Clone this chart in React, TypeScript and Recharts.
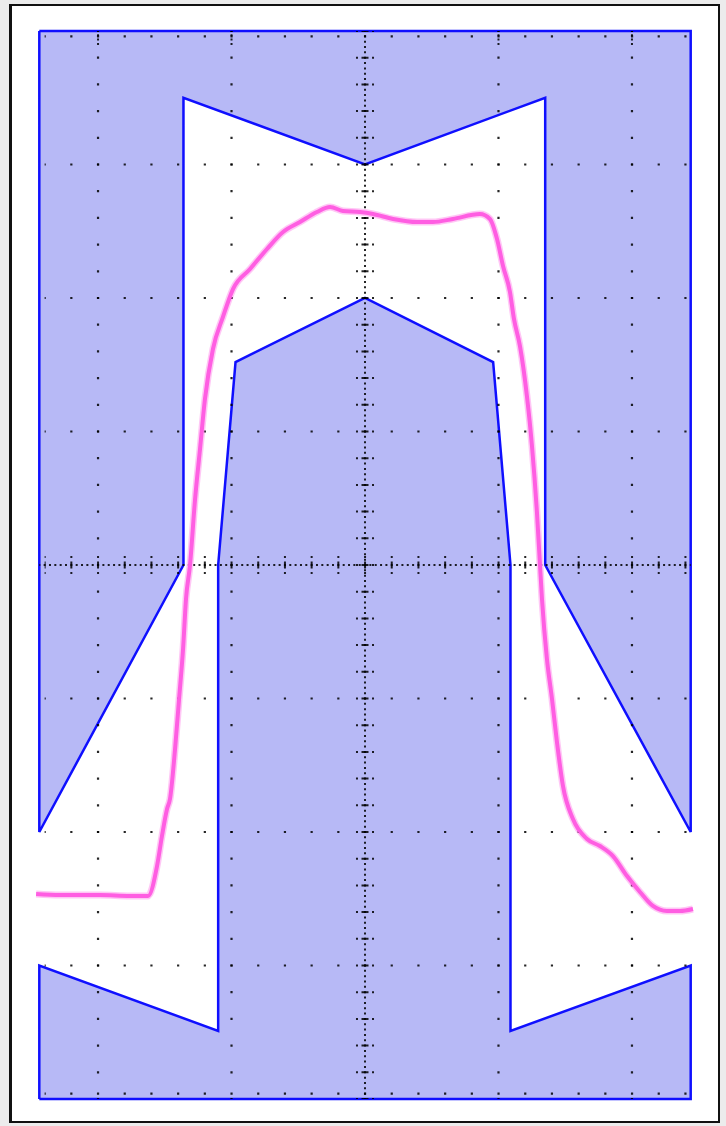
import { ComposedChart, Area, Line, XAxis, YAxis, ReferenceLine } from 'recharts'

// all values in screen divisions: x left/right of centre, y above/below centre
const upperMaskX = [-2.44, -2.44, -1.36, -1.36, 0, 1.35, 1.35, 2.44, 2.44, -2.44]
const upperMaskY = [4, -2, 0, 3.5, 3, 3.5, 0, -2, 4, 4]
const lowerMaskX = [-2.44, -2.44, -1.1, -1.1, -0.97, 0, 0.96, 1.09, 1.09, 2.44, 2.44, -2.44]
const lowerMaskY = [-4, -3, -3.49, 0, 1.52, 2, 1.52, 0, -3.49, -3, -4, -4]

// captured pulse
const traceX = [-2.464, -2.285, -1.985, -1.76, -1.625, -1.558, -1.521, -1.483, -1.461, -1.423, -1.393, -1.363,
  -1.341, -1.311, -1.273, -1.236, -1.199, -1.139, -1.064, -0.989, -0.861, -0.734, -0.614, -0.487, -0.36,
  -0.262, -0.165, -0.037, 0.06, 0.21, 0.39, 0.509, 0.659, 0.861, 0.936, 0.989, 1.034, 1.086, 1.116, 1.161,
  1.213, 1.251, 1.288, 1.311, 1.326, 1.363, 1.401, 1.438, 1.483, 1.558, 1.663, 1.76, 1.858, 1.963, 2.06,
  2.157, 2.262, 2.36, 2.457]
const traceY = [-2.464, -2.472, -2.472, -2.479, -2.479, -2.255, -2.03, -1.828, -1.753, -1.378, -1.004, -0.629,
  -0.255, 0, 0.494, 0.869, 1.243, 1.618, 1.858, 2.067, 2.217, 2.367, 2.494, 2.569, 2.644,
  2.682, 2.652, 2.644, 2.629, 2.592, 2.569, 2.569, 2.592, 2.629, 2.592, 2.442, 2.24, 2.045, 1.843, 1.64,
  1.266, 0.891, 0.397, 0, -0.255, -0.704, -1.004, -1.326, -1.655, -1.903, -2.052, -2.105, -2.18, -2.33, -2.449,
  -2.554, -2.592, -2.592, -2.577]

const gridX = [-2, -1, 1, 2]
const gridY = [-3, -2, -1, 1, 2, 3]
const edgeY = [3.96, -3.96]

const zip = (xs: number[], ys: number[]) => xs.map((x, i) => ({ x, y: ys[i] }))
const upperMask = zip(upperMaskX, upperMaskY)
const lowerMask = zip(lowerMaskX, lowerMaskY)
const trace = zip(traceX, traceY)

const DOT = '#000'
const BLUE = '#0f0fff'
const MASK = '#b7b9f6'
const PINK = '#ff5ee2'

export default function App() {
  return (
    <div style={{ position: 'absolute', left: 0, top: 0, width: 726, height: 1126, background: '#ececec' }}>
      <div style={{ position: 'absolute', left: 9, top: 4, width: 711, height: 1119, boxSizing: 'border-box',
        border: '2px solid #111', borderLeftWidth: 3, background: '#fff' }} />
      <div style={{ position: 'absolute', left: 0, top: 0 }}>
        <ComposedChart width={726} height={1126} margin={{ top: 31, right: 31.3, bottom: 27, left: 35.3 }}>
          <XAxis type="number" dataKey="x" domain={[-2.47, 2.47]} hide />
          <YAxis type="number" dataKey="y" domain={[-4, 4]} hide />
          <Area data={upperMask} dataKey="y" type="linear" baseValue={4} fill={MASK} fillOpacity={1}
            stroke={BLUE} strokeWidth={2.5} isAnimationActive={false} />
          <Area data={lowerMask} dataKey="y" type="linear" baseValue={-4} fill={MASK} fillOpacity={1}
            stroke={BLUE} strokeWidth={2.5} isAnimationActive={false} />

          {gridX.map(v => (
            <ReferenceLine key={'gx' + v} segment={[{ x: v, y: 4 }, { x: v, y: -4 }]} stroke={DOT} strokeWidth={2.2}
              strokeDasharray="2.2 24.5" strokeDashoffset={1.1} strokeOpacity={0.85} />
          ))}
          {gridX.map(v => (
            <ReferenceLine key={'gt' + v} segment={[{ x: v, y: 4 }, { x: v, y: 3.88 }]} stroke={DOT} strokeWidth={2}
              strokeDasharray="2 2.3" strokeDashoffset={1} strokeOpacity={0.85} />
          ))}
          {gridY.map(v => (
            <ReferenceLine key={'gy' + v} segment={[{ x: -2.4, y: v }, { x: 2.41, y: v }]} stroke={DOT} strokeWidth={2.2}
              strokeDasharray="2.2 24.5" strokeDashoffset={1.1} strokeOpacity={0.85} />
          ))}
          {edgeY.map(v => (
            <ReferenceLine key={'ey' + v} segment={[{ x: -2.4, y: v }, { x: 2.41, y: v }]} stroke={DOT} strokeWidth={2.2}
              strokeDasharray="2.2 24.5" strokeDashoffset={1.1} strokeOpacity={0.85} />
          ))}

          {/* centre axes: fine dots, tick bars, and dots either side of each bar */}
          <ReferenceLine segment={[{ x: -2.44, y: 0 }, { x: 2.44, y: 0 }]} stroke={DOT} strokeWidth={2}
            strokeDasharray="2 3.34" strokeDashoffset={1} strokeOpacity={0.85} />
          <ReferenceLine segment={[{ x: 0, y: 4 }, { x: 0, y: -4 }]} stroke={DOT} strokeWidth={2}
            strokeDasharray="2 3.34" strokeDashoffset={1} strokeOpacity={0.85} />
          <ReferenceLine segment={[{ x: -2.4, y: 0 }, { x: 2.41, y: 0 }]} stroke={DOT} strokeWidth={7}
            strokeDasharray="2 24.7" strokeDashoffset={1} strokeOpacity={0.85} />
          <ReferenceLine segment={[{ x: 0, y: 4 }, { x: 0, y: -4 }]} stroke={DOT} strokeWidth={7}
            strokeDasharray="2 24.7" strokeDashoffset={1} strokeOpacity={0.85} />
          {[0.06, -0.06].map(v => (
            <ReferenceLine key={'ay' + v} segment={[{ x: -2.4, y: v }, { x: 2.41, y: v }]} stroke={DOT} strokeWidth={2}
              strokeDasharray="2 24.7" strokeDashoffset={1} strokeOpacity={0.85} />
          ))}
          {[0.06, -0.06].map(v => (
            <ReferenceLine key={'ax' + v} segment={[{ x: v, y: 4 }, { x: v, y: -4 }]} stroke={DOT} strokeWidth={2}
              strokeDasharray="2 24.7" strokeDashoffset={1} strokeOpacity={0.85} />
          ))}

          <Line data={trace} dataKey="y" type="monotone" stroke={PINK} strokeOpacity={0.35} strokeWidth={7}
            dot={false} activeDot={false} isAnimationActive={false} />
          <Line data={trace} dataKey="y" type="monotone" stroke={PINK} strokeWidth={4}
            dot={false} activeDot={false} isAnimationActive={false} />
        </ComposedChart>
      </div>
    </div>
  )
}
